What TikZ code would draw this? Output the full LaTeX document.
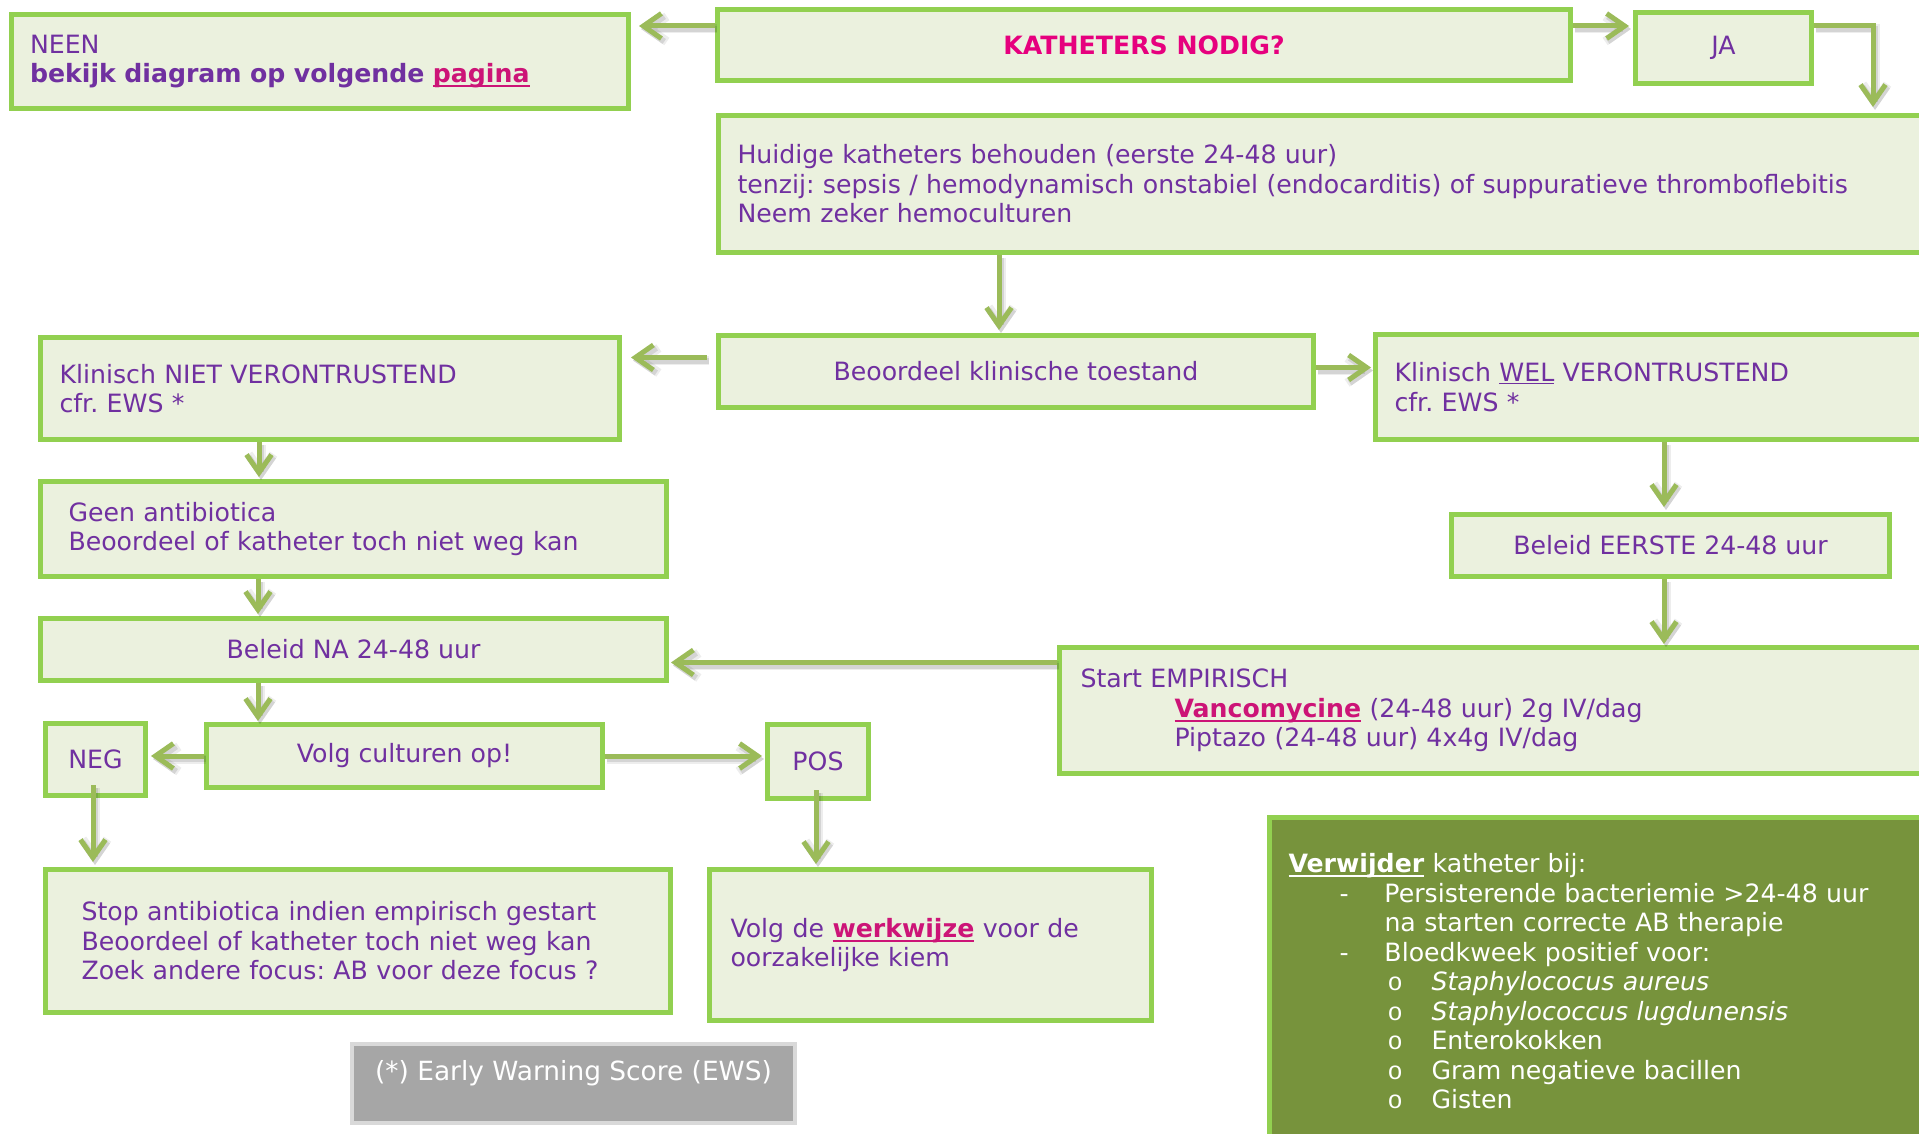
\documentclass[tikz,border=0pt]{standalone}
\usepackage{fontspec}
\setmainfont{DejaVu Sans}
\newfontfamily\monofam{Liberation Mono}
\usetikzlibrary{arrows.meta}
\definecolor{boxfill}{HTML}{EBF1DE}
\definecolor{boxline}{HTML}{92D050}
\definecolor{arrowc}{HTML}{9BBB59}
\definecolor{txt}{HTML}{7030A0}
\definecolor{hot}{HTML}{E6007E}
\definecolor{link}{HTML}{CC1477}
\definecolor{darkbox}{HTML}{77933C}
\definecolor{greybox}{HTML}{A6A6A6}
\definecolor{greyline}{HTML}{D9D9D9}
% heavy underline drawn in the current colour
\newsavebox{\ulbox}
\newcommand{\heavyul}[1]{\sbox{\ulbox}{#1}\leavevmode\rlap{\rule[-4.5pt]{\wd\ulbox}{2.2pt}}\usebox{\ulbox}}
\newcommand{\lnk}[1]{{\color{link}\heavyul{\textbf{#1}}}}
\newcommand{\subbul}{\makebox[44pt][l]{\monofam o}}
\newcommand{\dashitem}{\hspace*{51pt}\makebox[45pt][l]{-}}
\begin{document}
\frenchspacing
\begin{tikzpicture}[x=1pt,y=-1pt,
  every node/.style={font=\fontsize{25.2}{29.5}\selectfont, text=txt},
  box/.style={draw=boxline, fill=boxfill, line width=5pt, anchor=north west, inner ysep=0pt, rectangle},
  cbox/.style={box, align=center, inner xsep=0pt},
  lbox/.style={box, align=left},
  conn/.style={draw=arrowc, line width=5pt, -{Straight Barb[length=18pt,width=25pt]},
    preaction={draw=black, opacity=0.07, line width=9pt, transform canvas={shift={(2pt,-3pt)}}},
    preaction={draw=black, opacity=0.10, line width=6pt, transform canvas={shift={(2pt,-3pt)}}}},
]
\useasboundingbox[fill=white] (0,0) rectangle (1919,1134);

% boxes of the flow chart
\node[lbox, minimum width=617pt, minimum height=94.5pt, inner xsep=19pt, text width=579pt] (neen) at (8.5,12)
  {NEEN\\\textbf{bekijk diagram op volgende \lnk{pagina}}};
\node[cbox, minimum width=853pt, minimum height=71pt] (kat) at (715,7)
  {\textcolor{hot}{\textbf{KATHETERS NODIG?}}};
\node[cbox, minimum width=176pt, minimum height=71pt] (ja) at (1633,10) {JA};
\node[lbox, minimum width=1224pt, minimum height=137pt, inner xsep=19pt, text width=1186pt] (huid) at (716,113)
  {Huidige katheters behouden (eerste 24-48 uur)\\
   tenzij: sepsis / hemodynamisch onstabiel (endocarditis) of suppuratieve thromboflebitis\\
   Neem zeker hemoculturen};
\node[cbox, minimum width=595pt, minimum height=72pt] (beo) at (716,333) {Beoordeel klinische toestand};
\node[lbox, minimum width=579pt, minimum height=102pt, inner xsep=19pt, text width=541pt] (niet) at (38,335)
  {Klinisch NIET VERONTRUSTEND\\cfr. EWS *};
\node[lbox, minimum width=567pt, minimum height=105pt, inner xsep=19pt, text width=529pt] (wel) at (1373,332)
  {Klinisch \underline{WEL} VERONTRUSTEND\\cfr. EWS *};
\node[lbox, minimum width=626pt, minimum height=95pt, inner xsep=28pt, text width=570pt] (geen) at (38,479)
  {Geen antibiotica\\Beoordeel of katheter toch niet weg kan};
\node[cbox, minimum width=438pt, minimum height=62pt] (eerste) at (1449,512) {Beleid EERSTE 24-48 uur};
\node[cbox, minimum width=626pt, minimum height=62pt] (na) at (38,616) {Beleid NA 24-48 uur};
\node[lbox, minimum width=883pt, minimum height=126pt, inner xsep=21pt, text width=841pt] (start) at (1057,645)
  {Start EMPIRISCH\\
   \hspace*{94pt}\lnk{Vancomycine} (24-48 uur) 2g IV/dag\\
   \hspace*{94pt}Piptazo (24-48 uur) 4x4g IV/dag};
\node[cbox, minimum width=100pt, minimum height=72pt] (neg) at (43,721) {NEG};
\node[cbox, minimum width=396pt, minimum height=63pt] (volg) at (204,722) {Volg culturen op!};
\node[cbox, minimum width=101pt, minimum height=74pt] (pos) at (765,722) {POS};
\node[lbox, minimum width=625pt, minimum height=143pt, inner xsep=36pt, text width=553pt] (stop) at (43,867)
  {Stop antibiotica indien empirisch gestart\\
   Beoordeel of katheter toch niet weg kan\\
   Zoek andere focus: AB voor deze focus ?};
\node[lbox, minimum width=442pt, minimum height=151pt, inner xsep=21pt, text width=400pt] (werk) at (707,867)
  {Volg de \lnk{werkwijze} voor de\\oorzakelijke kiem};

% footnote and removal criteria
\node[draw=greyline, fill=greybox, line width=4pt, anchor=north west, minimum width=443pt, minimum height=79pt,
      inner sep=0pt, text=white, font=\fontsize{26.4}{30}\selectfont] (ews) at (350,1042)
  {\raisebox{10pt}[\height][\depth]{(*) Early Warning Score (EWS)}};
\node[box, fill=darkbox, align=left, minimum width=673pt, minimum height=328pt, inner xsep=19pt,
      text width=635pt, text=white] (verw) at (1267,815)
  {\heavyul{\textbf{Verwijder}} katheter bij:\\
   \dashitem Persisterende bacteriemie >24-48 uur\\
   \hspace*{96pt}na starten correcte AB therapie\\
   \dashitem Bloedkweek positief voor:\\
   \hspace*{99pt}\subbul\textit{Staphylococus aureus}\\
   \hspace*{99pt}\subbul\textit{Staphylococcus lugdunensis}\\
   \hspace*{99pt}\subbul Enterokokken\\
   \hspace*{99pt}\subbul Gram negatieve bacillen\\
   \hspace*{99pt}\subbul Gisten};

% connectors
\coordinate (jaturn) at (1873,23.5);
\draw[conn, shorten >=8.5pt] ([yshift=19pt]kat.west) -- ([yshift=19pt]kat.west -| neen.east);
\draw[conn, shorten >=4pt] ([yshift=19pt]kat.east) -- ([yshift=19pt]kat.east -| ja.west);
\draw[conn, shorten >=6pt] ([yshift=22pt]ja.east) -| (jaturn |- huid.north);
\draw[conn, shorten >=3pt] ([xshift=-17pt]beo.north |- huid.south) -- ([xshift=-17pt]beo.north);
\draw[conn, shorten <=9pt, shorten >=9pt] ([yshift=14pt]beo.west) -- ([yshift=14pt]beo.west -| niet.east);
\draw[conn, shorten >=2pt] ([yshift=4pt]beo.east) -- ([yshift=4pt]beo.east -| wel.west);
\draw[conn, shorten >=2pt] ([xshift=-71pt]niet.south) -- ([xshift=-71pt]niet.south |- geen.north);
\draw[conn, shorten >=2pt] ([xshift=-95.5pt]geen.south) -- ([xshift=-95.5pt]geen.south |- na.north);
\draw[conn, shorten >=5pt] ([xshift=-6.5pt]eerste.north |- wel.south) -- ([xshift=-6.5pt]eerste.north);
\draw[conn, shorten >=1pt] ([xshift=-6.5pt]eerste.south) -- ([xshift=-6.5pt]eerste.south |- start.north);
\draw[conn, shorten >=2pt] ([yshift=48pt]start.west) -- ([yshift=48pt]start.west -| na.east);
\draw[conn, shorten >=1pt] ([xshift=-95.5pt]na.south) -- ([xshift=-95.5pt]na.south |- volg.north);
\draw[conn, shorten >=3pt] (volg.west) -- (volg.west -| neg.east);
\draw[conn, shorten >=3pt] (volg.east) -- (volg.east -| pos.west);
\draw[conn, shorten >=5pt] ([xshift=-2.5pt, yshift=13pt]neg.south) -- ([xshift=-2.5pt]neg.south |- stop.north);
\draw[conn, shorten >=3pt] ([xshift=-2pt, yshift=11pt]pos.south) -- ([xshift=-2pt]pos.south |- werk.north);
\end{tikzpicture}
\end{document}
